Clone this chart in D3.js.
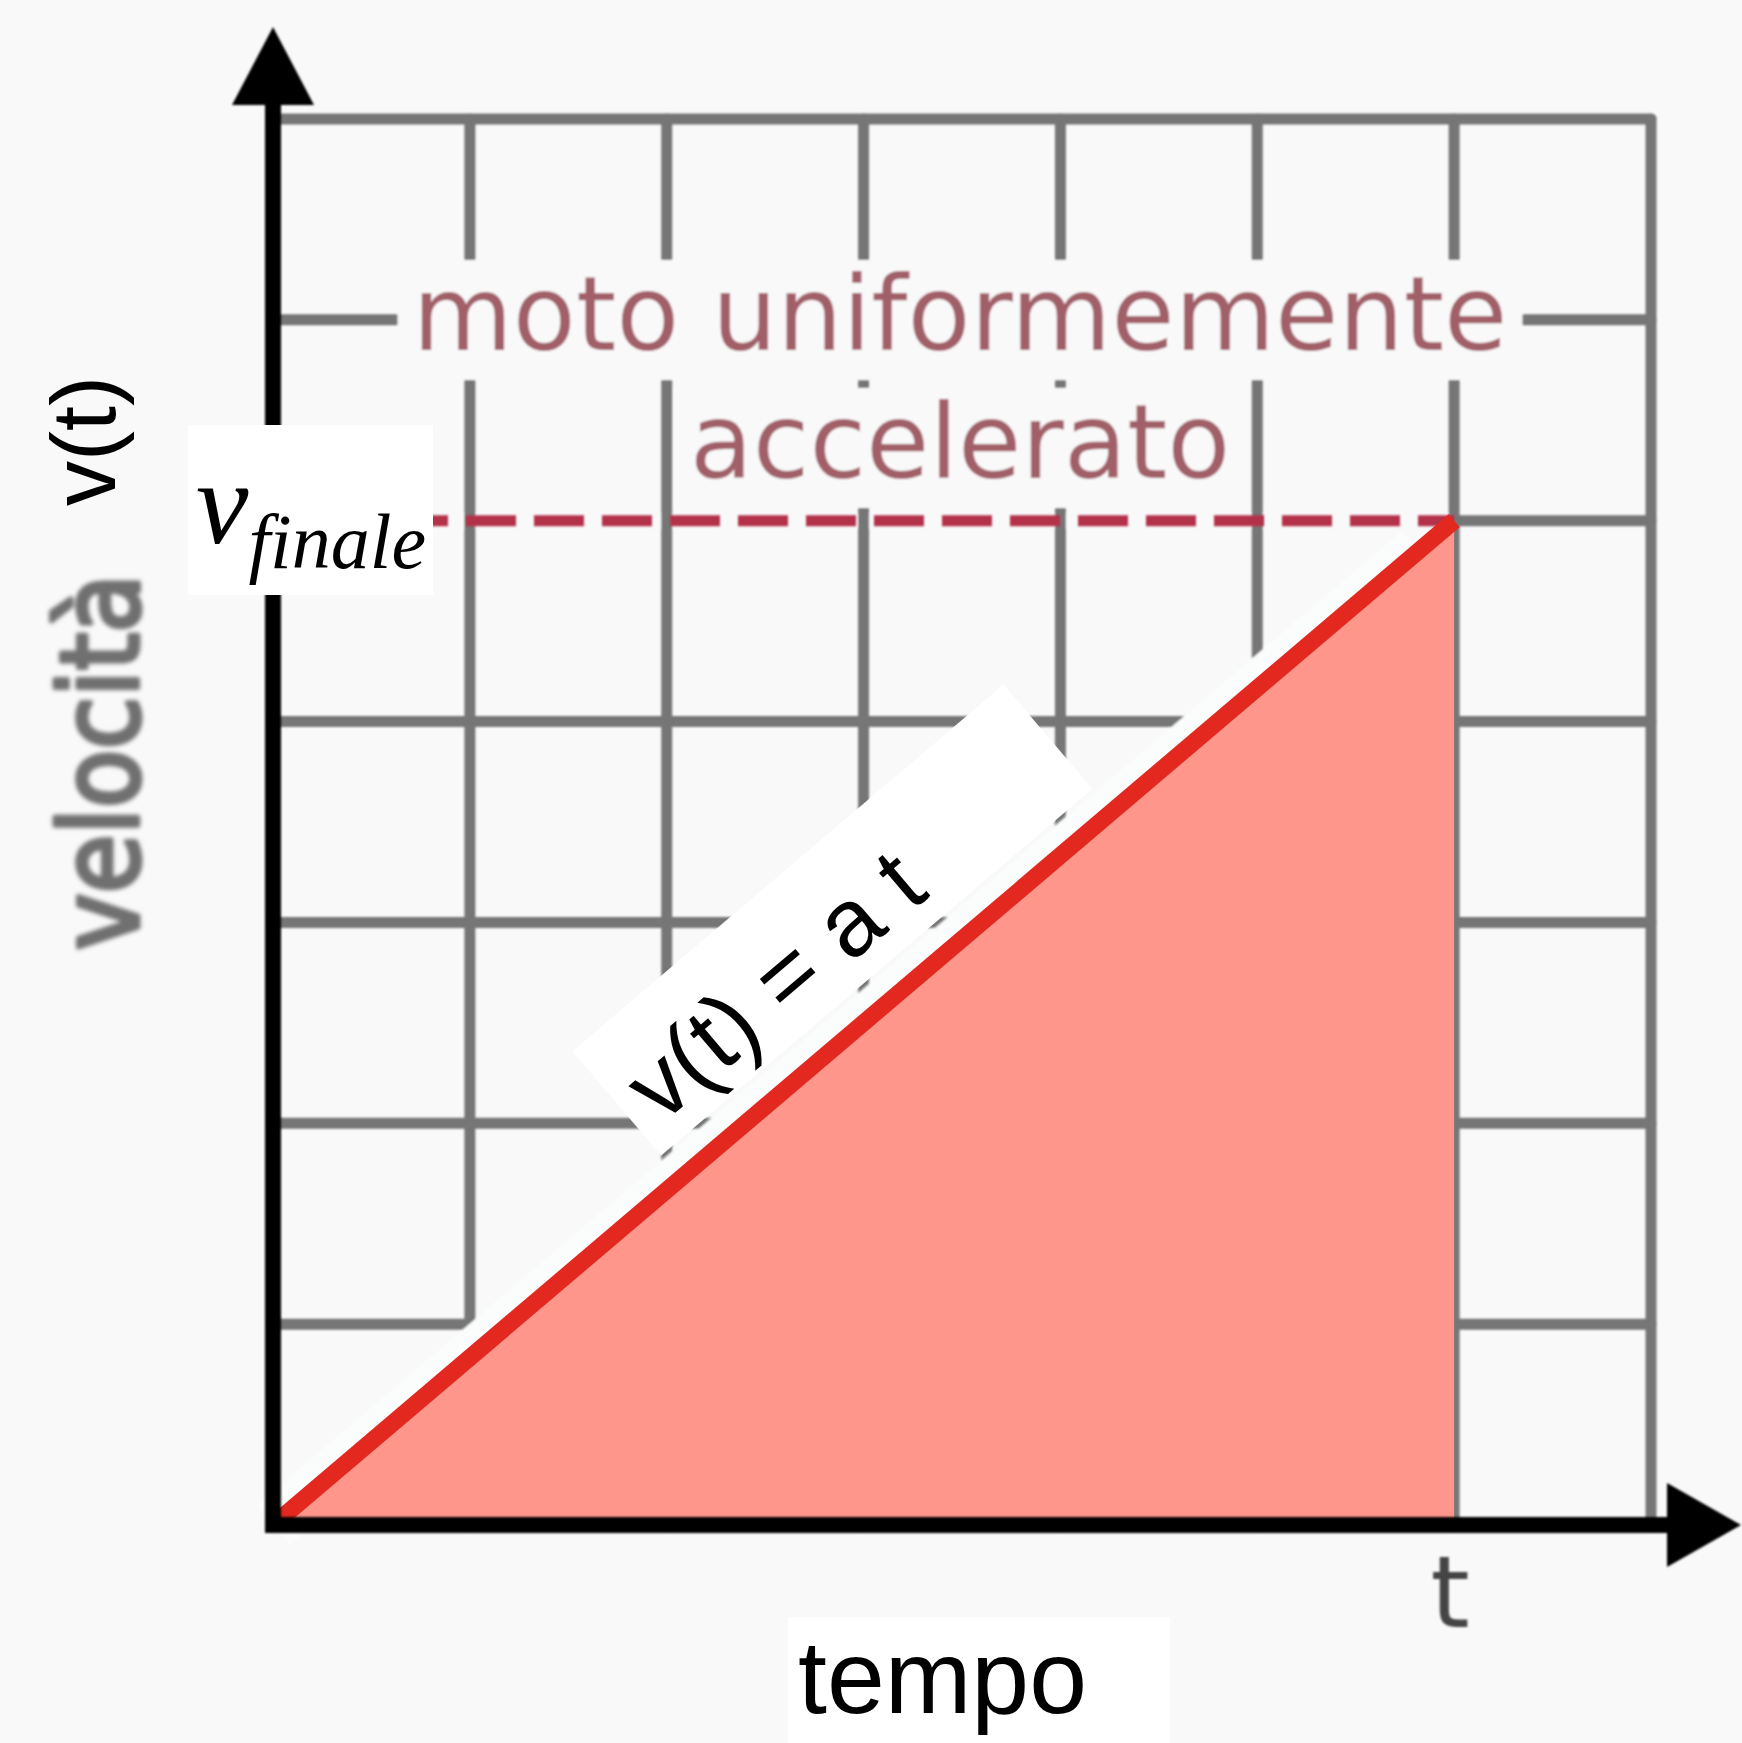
<!DOCTYPE html>
<html>
<head>
<meta charset="utf-8">
<script src="https://cdn.jsdelivr.net/npm/d3@7"></script>
<style>
  body { margin: 0; background: #f9f9f9; }
  svg { display: block; }
</style>
</head>
<body>
<script>
// grid units on both axes, plus the end point of the motion
const xTicks = [0, 1, 2, 3, 4, 5, 6, 7];
const yTicks = [0, 1, 2, 3, 4, 5, 6, 7];
const tValue = 6;
const vFinal = 5;

const titleLines = ['moto uniformemente', 'accelerato'];
const yLabels = ['velocità', 'v(t)'];
const lawLabel = 'v(t) = a t';
const xLabel = 'tempo';
const tickLabel = 't';
const vLabel = ['v', 'finale'];

const width = 1742,
  height = 1743;

const bg = '#f9f9f9';

const x = d3.scaleLinear()
  .domain(d3.extent(xTicks))
  .range([273, 1651]);

const y = d3.scaleLinear()
  .domain(d3.extent(yTicks))
  .range([1525, 119]);

const svg = d3.select('body').append('svg')
  .attr('width', width)
  .attr('height', height);

// blur filters in user space so thin horizontal marks survive them
const defs = svg.append('defs');
defs.append('filter')
  .attr('id', 'soft')
  .attr('filterUnits', 'userSpaceOnUse')
  .attr('x', 0).attr('y', 0).attr('width', width).attr('height', height)
  .append('feGaussianBlur')
  .attr('stdDeviation', 1.3);
defs.append('filter')
  .attr('id', 'fuzzy')
  .attr('filterUnits', 'userSpaceOnUse')
  .attr('x', 0).attr('y', 0).attr('width', width).attr('height', height)
  .append('feGaussianBlur')
  .attr('stdDeviation', 1.9);

svg.append('rect')
  .attr('width', width)
  .attr('height', height)
  .attr('fill', bg);

// the old scanned sheet: grid, faded title
const sheet = svg.append('g').attr('filter', 'url(#soft)');

sheet.append('g')
  .selectAll('line')
  .data(yTicks.slice(1))
  .enter().append('line')
  .attr('x1', x(0))
  .attr('x2', x(7))
  .attr('y1', d => y(d))
  .attr('y2', d => y(d))
  .attr('stroke', '#767676')
  .attr('stroke-width', 11)
  .attr('stroke-linecap', 'round');

// the dashed level replaces the grid line left of t
sheet.append('line')
  .attr('x1', x(0))
  .attr('x2', x(tValue) - 4)
  .attr('y1', y(vFinal))
  .attr('y2', y(vFinal))
  .attr('stroke', bg)
  .attr('stroke-width', 15);

sheet.append('g')
  .selectAll('line')
  .data(xTicks.slice(1))
  .enter().append('line')
  .attr('x1', d => x(d))
  .attr('x2', d => x(d))
  .attr('y1', y(0))
  .attr('y2', y(7))
  .attr('stroke', '#767676')
  .attr('stroke-width', 11)
  .attr('stroke-linecap', 'round');

const title = sheet.append('g');
titleLines.forEach((s, i) => {
  const t = title.append('text')
    .attr('x', 960)
    .attr('y', 350 + i * 128)
    .attr('text-anchor', 'middle')
    .attr('font-family', 'DejaVu Sans')
    .attr('font-size', 103)
    .attr('fill', '#a15e67')
    .text(s);
  const b = t.node().getBBox();
  title.insert('rect', 'text')
    .attr('x', b.x - 15)
    .attr('y', b.y + 6)
    .attr('width', b.width + 30)
    .attr('height', b.height)
    .attr('fill', bg);
});

// light halo above the velocity line hides the grid near it
sheet.append('line')
  .attr('x1', x(0))
  .attr('y1', y(0))
  .attr('x2', x(tValue * 0.97))
  .attr('y2', y(vFinal * 0.97))
  .attr('stroke', '#fbfcfc')
  .attr('stroke-width', 52);

// area under v(t)
const line = d3.line().x(d => x(d[0])).y(d => y(d[1]));

svg.append('path')
  .datum([[0, 0], [tValue, vFinal], [tValue, 0]])
  .attr('d', d => line(d) + 'Z')
  .attr('fill', '#ff968b');

svg.append('line')
  .attr('x1', x(0))
  .attr('x2', x(tValue))
  .attr('y1', y(vFinal))
  .attr('y2', y(vFinal))
  .attr('stroke', '#b3334a')
  .attr('stroke-width', 11)
  .attr('stroke-dasharray', '50,18')
  .attr('stroke-dashoffset', 11)
  .attr('filter', 'url(#soft)');

svg.append('path')
  .datum([[0, 0], [tValue, vFinal]])
  .attr('d', line)
  .attr('stroke', '#e2281f')
  .attr('stroke-width', 17)
  .attr('fill', 'none');

// axes with arrows
const axes = svg.append('g').attr('filter', 'url(#soft)');

axes.append('line')
  .attr('x1', x(0)).attr('x2', x(0))
  .attr('y1', y(0) + 8).attr('y2', 100)
  .attr('stroke', '#000')
  .attr('stroke-width', 16);

axes.append('path')
  .attr('d', `M${x(0)},27 L${x(0) + 41},105 L${x(0) - 41},105 Z`)
  .attr('fill', '#000');

axes.append('line')
  .attr('x1', x(0) - 8).attr('x2', 1672)
  .attr('y1', y(0)).attr('y2', y(0))
  .attr('stroke', '#000')
  .attr('stroke-width', 16);

axes.append('path')
  .attr('d', `M1741,${y(0)} L1667,${y(0) - 42} L1667,${y(0) + 42} Z`)
  .attr('fill', '#000');

axes.append('text')
  .attr('x', x(tValue) - 4)
  .attr('y', 1627)
  .attr('text-anchor', 'middle')
  .attr('font-family', 'DejaVu Sans')
  .attr('font-size', 100)
  .attr('fill', '#444')
  .text(tickLabel);

svg.append('g')
  .attr('filter', 'url(#fuzzy)')
  .append('text')
  .attr('transform', 'translate(138,950) rotate(-90)')
  .attr('font-family', 'DejaVu Sans')
  .attr('font-size', 108)
  .attr('textLength', 376)
  .attr('lengthAdjust', 'spacingAndGlyphs')
  .attr('fill', '#6f6f6f')
  .attr('stroke', '#6f6f6f')
  .attr('stroke-width', 5)
  .attr('stroke-linejoin', 'round')
  .text(yLabels[0]);

// crisp overlay labels
svg.append('text')
  .attr('transform', 'translate(115,506) rotate(-90)')
  .attr('font-family', 'Liberation Sans, Arial, sans-serif')
  .attr('font-size', 90)
  .attr('fill', '#000')
  .text(yLabels[1]);

const vBox = svg.append('g');
vBox.append('rect')
  .attr('x', 188).attr('y', 425)
  .attr('width', 245).attr('height', 170)
  .attr('fill', '#fff');
const vText = vBox.append('text')
  .attr('x', 196).attr('y', 543)
  .attr('font-family', 'Liberation Serif, Times New Roman, serif')
  .attr('font-style', 'italic')
  .attr('font-size', 118);
vText.append('tspan').text(vLabel[0]);
vText.append('tspan')
  .attr('dx', 0)
  .attr('dy', 25)
  .attr('font-size', 78)
  .text(vLabel[1]);

// rotated label along the line
const dx = x(tValue) - x(0),
  dy = y(vFinal) - y(0),
  len = Math.hypot(dx, dy),
  ux = dx / len,
  uy = dy / len,
  ang = Math.atan2(dy, dx) * 180 / Math.PI;
const cx = x(0) + ux * 818 + uy * 99,
  cy = y(0) + uy * 818 - ux * 99;

const law = svg.append('g')
  .attr('transform', `translate(${cx},${cy}) rotate(${ang})`);
law.append('rect')
  .attr('x', -283).attr('y', -68)
  .attr('width', 566).attr('height', 137)
  .attr('fill', '#fff');
law.append('text')
  .attr('x', -86).attr('y', 12)
  .attr('text-anchor', 'middle')
  .attr('dominant-baseline', 'central')
  .attr('font-family', 'Liberation Sans, Arial, sans-serif')
  .attr('font-size', 96)
  .text(lawLabel);

const tBox = svg.append('g');
tBox.append('rect')
  .attr('x', 788).attr('y', 1617)
  .attr('width', 382).attr('height', 130)
  .attr('fill', '#fff');
tBox.append('text')
  .attr('x', 798).attr('y', 1713)
  .attr('font-family', 'Liberation Sans, Arial, sans-serif')
  .attr('font-size', 104)
  .text(xLabel);
</script>
</body>
</html>
